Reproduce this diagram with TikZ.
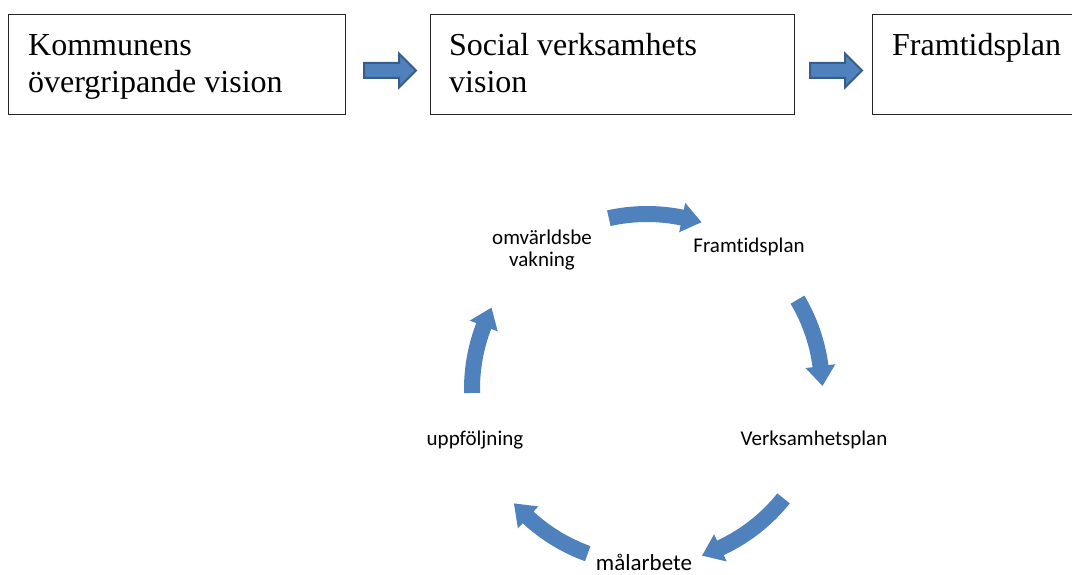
\documentclass[tikz,border=0pt]{standalone}
\usepackage{fontspec}
\setmainfont{Liberation Serif}
\newfontfamily\calibrifont[Ligatures=NoCommon]{Carlito}
\usetikzlibrary{calc}
\definecolor{accent}{HTML}{4F81BD}
\definecolor{accentdark}{HTML}{385D8A}
\begin{document}
\begin{tikzpicture}[x=1pt,y=1pt,
  box/.style={draw=black!85, line width=1pt, inner sep=0pt, anchor=north west, minimum height=100pt},
  boxtext/.style={inner sep=0pt, anchor=base west, align=left, font=\fontsize{32}{37}\selectfont},
  blockarrow/.style={draw=accentdark, fill=accent, line width=2pt, line join=miter},
  cyclabel/.style={inner sep=0pt, anchor=base, align=center, font=\calibrifont\fontsize{21}{21.5}\selectfont},
]
\useasboundingbox (0,0) rectangle (1072,575);
% top boxes
\node[box, minimum width=337pt] (b1) at (8,561) {};
\node[box, minimum width=364pt] (b2) at (430,561) {};
\node[box, minimum width=215pt] (b3) at (872,561) {};
\node[boxtext] (t1) at ($(b1.north west)+(20,-79)$) {Kommunens\\övergripande vision};
\node[boxtext] (t2) at ($(b2.north west)+(19,-79)$) {Social verksamhets\\vision};
\node[boxtext] (t3) at ($(b3.north west)+(20,-42)$) {Framtidsplan};
% block arrows
\coordinate (a1) at (364,504.5);
\coordinate (a2) at (810,504.5);
\foreach \a in {a1,a2} {
  \draw[blockarrow] ($(\a)+(0,7.5)$) -- ++(35,0) -- ++(0,9.5) -- ($(\a)+(52,0)$)
    -- ($(\a)+(35,-17)$) -- ++(0,9.5) -- ($(\a)+(0,-7.5)$) -- cycle;
}
% cycle
\coordinate (C) at (647,186);
\node[cyclabel] (n1) at (542,308.5) {omvärldsbe\\vakning};
\node[cyclabel] (n2) at (749,322.5) {Framtidsplan};
\node[cyclabel] (n3) at (814,129.5) {Verksamhetsplan};
\node[cyclabel, font=\calibrifont\fontsize{23}{24}\selectfont] (n4) at (644,4) {målarbete};
\node[cyclabel] (n5) at (475,129.5) {uppföljning};
\foreach \as/\ae in {102.6/71.9, 30.7/1, -38.7/-71.7, -109.8/-139.3, 181.3/152.4} {
  \pgfmathsetmacro\ab{\ae+6.5}
  \fill[accent] ($(C)+(\as:183)$) arc[start angle=\as, end angle=\ab, radius=183]
    -- ($(C)+(\ab:190)$) -- ($(C)+(\ae:175.5)$) -- ($(C)+(\ab:160)$) -- ($(C)+(\ab:167)$)
    arc[start angle=\ab, end angle=\as, radius=167] -- cycle;
}
\end{tikzpicture}
\end{document}
